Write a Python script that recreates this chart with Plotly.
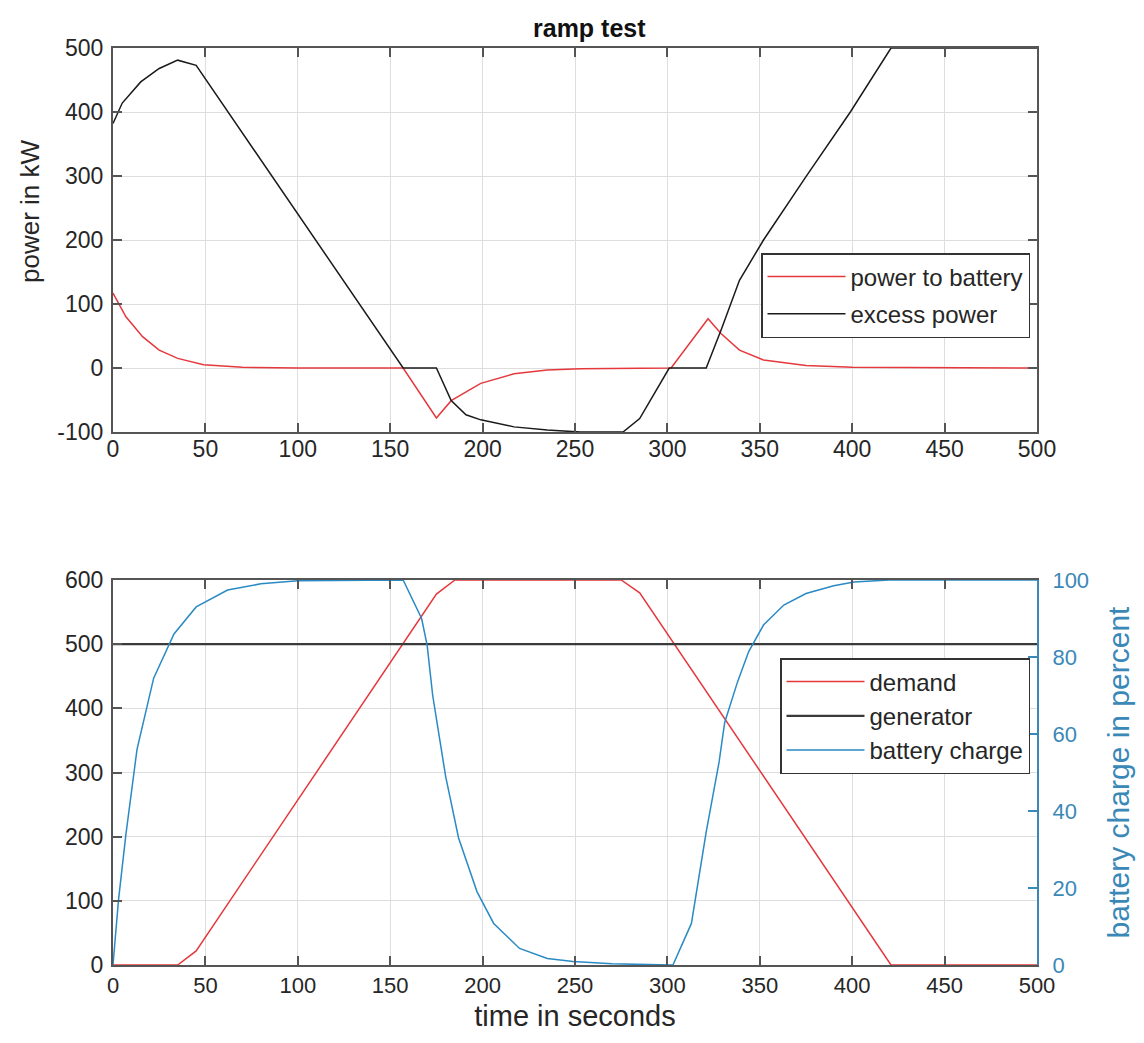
import plotly.graph_objects as go

# ---------------- data ----------------
# top panel: power to battery / excess power (kW) vs time (s)
t_excess = [0, 5, 15, 25, 35, 45, 157, 175, 183, 191, 199, 217, 235, 253, 276, 285, 301, 321, 329, 339, 352, 375, 399, 421, 500]
excess_power = [382, 414, 447, 468, 481, 473, 0, 0, -51, -73, -81, -92, -97, -100, -100, -79, 0, 0, 59, 137, 200, 299, 400, 500, 500]

t_battery = [0, 7, 16, 25, 35, 49, 70, 100, 157, 175, 183, 199, 217, 235, 253, 280, 302, 322, 329, 339, 352, 375, 400, 500]
power_to_battery = [117, 80, 49, 28, 15, 5, 1, 0, 0, -78, -51, -24, -9, -3, -1, 0, 0, 77, 54, 28, 12.5, 4, 1, 0]

# bottom panel: demand / generator (kW) and battery charge (%)
t_demand = [0, 35, 45, 175, 185, 275, 285, 421, 500]
demand = [0, 0, 22, 578, 600, 600, 580, 0, 0]

t_generator = [0, 500]
generator = [500, 500]

t_charge = [0, 3, 7, 13, 22, 33, 45, 62, 80, 100, 157, 167, 170, 173, 180, 187, 197, 206, 220, 235, 249, 270,
            303, 313, 321, 328, 331, 338, 344, 352, 363, 375, 390, 401, 420, 500]
battery_charge = [0, 17, 34, 56, 74.5, 86, 93, 97.4, 99, 99.8, 100, 90, 83, 70, 49, 33, 19, 10.8, 4.3, 1.7, 0.9, 0.3,
                  0, 10.8, 34.6, 52.8, 63, 73.6, 81.4, 88.3, 93.5, 96.5, 98.5, 99.5, 100, 100]

x_ticks = list(range(0, 501, 50))
y_top_ticks = list(range(-100, 501, 100))
y_top_labels = [str(v) for v in y_top_ticks]
y_bot_ticks = list(range(0, 601, 100))
y_pct_ticks = list(range(0, 101, 20))

# ---------------- styling ----------------
RED = "#e5383d"
BLACK = "#1a1a1a"
BLUE = "#2a8ac4"
AXIS_BLUE = "#3a88b8"
FRAME = "#555555"
GRID = "#dedede"
TXT = "#262626"
FONT = "Liberation Sans, Arial, sans-serif"

W, H = 1144, 1043
ML, MR, MT, MB = 113, W - 1037, 48, H - 965
PH = H - MT - MB  # plot-area height in px
PW = W - ML - MR  # plot-area width in px

def dom(top_px, bot_px):
    return [(965 - bot_px) / PH, (965 - top_px) / PH]

def fx(px):
    return (px - ML) / PW

def fy(py):
    return (965 - py) / PH

top_dom = dom(48, 432)
bot_dom = dom(580, 965)

fig = go.Figure()

fig.add_trace(go.Scatter(x=t_battery, y=power_to_battery, mode="lines", name="power to battery",
                         line=dict(color=RED, width=1.5), xaxis="x", yaxis="y", legend="legend", legendgroup="a"))
fig.add_trace(go.Scatter(x=t_excess, y=excess_power, mode="lines", name="excess power",
                         line=dict(color=BLACK, width=1.5), xaxis="x", yaxis="y", legend="legend", legendgroup="b"))

fig.add_trace(go.Scatter(x=t_demand, y=demand, mode="lines", name="demand",
                         line=dict(color=RED, width=1.5), xaxis="x2", yaxis="y2", legend="legend2", legendgroup="c"))
fig.add_trace(go.Scatter(x=t_generator, y=generator, mode="lines", name="generator",
                         line=dict(color="#3a3a3a", width=2.2), xaxis="x2", yaxis="y2", legend="legend2", legendgroup="d"))
fig.add_trace(go.Scatter(x=t_charge, y=battery_charge, mode="lines", name="battery charge",
                         line=dict(color=BLUE, width=1.5), xaxis="x2", yaxis="y3", legend="legend2", legendgroup="e"))

tickfont = dict(family=FONT, size=23, color=TXT)
common_x = dict(range=[0, 500], tickvals=x_ticks, ticks="inside", ticklen=9, tickcolor=FRAME, tickwidth=1.5,
                showline=True, linecolor=FRAME, linewidth=2, mirror="ticks", showgrid=True,
                gridcolor=GRID, gridwidth=1, zeroline=False, domain=[0, 1], automargin=False)

fig.update_layout(
    width=W, height=H,
    margin=dict(l=ML, r=MR, t=MT, b=MB, autoexpand=False),
    paper_bgcolor="white", plot_bgcolor="white",
    font=dict(family=FONT, size=23, color=TXT),
    xaxis=dict(anchor="y", tickfont=tickfont, ticklabelstandoff=-5, **common_x),
    yaxis=dict(anchor="x", domain=top_dom, range=[-100, 500], tickvals=y_top_ticks, ticktext=y_top_labels,
               ticks="inside", ticklen=9, tickwidth=1.5, tickcolor=FRAME, showline=True, linecolor=FRAME, linewidth=2,
               mirror="ticks", showgrid=True, gridcolor=GRID, zeroline=False, tickfont=tickfont,
               automargin=False, ticklabelstandoff=3),
    xaxis2=dict(anchor="y2", tickfont=dict(family=FONT, size=22, color=TXT), ticklabelstandoff=0,
                title=dict(text="time in seconds", font=dict(family=FONT, size=29, color=TXT), standoff=8),
                **common_x),
    yaxis2=dict(anchor="x2", domain=bot_dom, range=[0, 600], tickvals=y_bot_ticks, ticks="inside", ticklen=9,
                tickwidth=1.5, tickcolor=FRAME, showline=True, linecolor=FRAME, linewidth=2, mirror=False,
                showgrid=True, gridcolor=GRID, zeroline=False, tickfont=tickfont,
                automargin=False, ticklabelstandoff=3),
    yaxis3=dict(anchor="x2", overlaying="y2", side="right", range=[0, 100], tickvals=y_pct_ticks,
                ticks="inside", ticklen=9, tickwidth=1.5, tickcolor=AXIS_BLUE, showline=True, linecolor=AXIS_BLUE,
                linewidth=2, showgrid=False, zeroline=False,
                tickfont=dict(family=FONT, size=22, color=AXIS_BLUE), automargin=False, ticklabelstandoff=9,
                title=dict(text="battery charge in percent", font=dict(family=FONT, size=30, color=AXIS_BLUE),
                           standoff=20)),
    legend=dict(x=fx(1030), y=fy(253), xanchor="right", yanchor="top",
                xref="paper", yref="paper", bgcolor="white",
                bordercolor="#333333", borderwidth=1.5, font=dict(family=FONT, size=24, color=TXT),
                itemwidth=78, tracegroupgap=3),
    legend2=dict(x=fx(1030), y=fy(658), xanchor="right", yanchor="top",
                 xref="paper", yref="paper", bgcolor="white",
                 bordercolor="#333333", borderwidth=1.5, font=dict(family=FONT, size=24, color=TXT),
                 itemwidth=78, tracegroupgap=0),
    showlegend=True,
    annotations=[
        dict(text="<b>ramp test</b>", x=fx(589), y=fy(28), xref="paper", yref="paper",
             xanchor="center", yanchor="middle", showarrow=False,
             font=dict(family=FONT, size=25, color="#111111")),
        dict(text="power in kW", x=fx(30), y=fy(212), xref="paper", yref="paper",
             xanchor="center", yanchor="middle", showarrow=False, textangle=-90,
             font=dict(family=FONT, size=26, color=TXT)),
    ],
)

fig.write_html("out.html")
